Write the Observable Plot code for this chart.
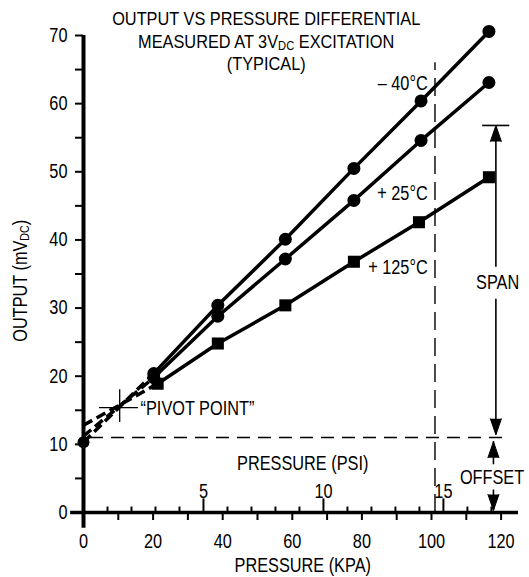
<!DOCTYPE html>
<html><head><meta charset="utf-8">
<script src="https://cdn.jsdelivr.net/npm/d3@7"></script>
<script src="https://cdn.jsdelivr.net/npm/@observablehq/plot@0.6"></script>
<style>body{margin:0;background:#fff}#chart{width:529px;height:577px}</style>
</head><body><div id="chart"></div>
<script>
// ---- data ----
const seriesNames = ["– 40°C", "+ 25°C", "+ 125°C"];
const kpaCircles = [20.2, 38.6, 58, 77.7, 97, 116.5];
const outMinus40 = [20.4, 30.4, 40.1, 50.5, 60.4, 70.6];
const outPlus25 = [19.8, 28.8, 37.2, 45.8, 54.6, 63.1];
const kpaSquares = [21.3, 38.6, 58, 77.7, 96.4, 116.5];
const outPlus125 = [18.9, 24.8, 30.4, 36.8, 42.6, 49.2];
// dashed extrapolation of each series back to 0 kPa
const extOutAtZero = [10.3, 11.2, 12.8];
const originDot = [10.3];
// axes
const yTickValues = [0, 5, 10, 15, 20, 25, 30, 35, 40, 45, 50, 55, 60, 65, 70];
const yTickLabels = [0, 10, 20, 30, 40, 50, 60, 70];
const xTickValues = [0, 10, 20, 30, 40, 50, 60, 70, 80, 90, 100, 110, 120];
const xTickLabels = [0, 20, 40, 60, 80, 100, 120];
const psiTicks = [1, 2, 3, 4, 5, 6, 7, 8, 9, 10, 11, 12, 13, 14, 15, 16, 17];
const psiLabels = [5, 10, 15];
const KPA_PER_PSI = 6.895;
// annotations
const offsetLevel = [11];
const fullScaleKpa = [101];
const spanTop = [56.8];
const pivot = {kpa: 10.4, out: 15.4};

const FONT = "'Liberation Sans', Arial, sans-serif";
const FS = 20;
const NARROW = 0.815;

const circ = [
  ...kpaCircles.map((x, i) => ({x, y: outMinus40[i], s: seriesNames[0]})),
  ...kpaCircles.map((x, i) => ({x, y: outPlus25[i], s: seriesNames[1]}))
];
const sq = kpaSquares.map((x, i) => ({x, y: outPlus125[i], s: seriesNames[2]}));
const firstPts = [
  {x: kpaCircles[0], y: outMinus40[0]},
  {x: kpaCircles[0], y: outPlus25[0]},
  {x: kpaSquares[0], y: outPlus125[0]}
];
const ext = extOutAtZero.map((v, i) => ({x1: 0, y1: v, x2: firstPts[i].x, y2: firstPts[i].y}));

const spanX = 118.5, offX = 117.8;
const arrowTips = [
  {x: spanX, y: spanTop[0], r: 0},
  {x: spanX, y: 11.4, r: 180},
  {x: offX, y: 10.4, r: 0},
  {x: offX, y: 0.3, r: 180}
];
const vSegs = [
  {x: spanX, y1: 11.4, y2: 31.3},
  {x: spanX, y1: 36.0, y2: spanTop[0]},
  {x: offX, y1: 7.0, y2: 10.4},
  {x: offX, y1: 0.3, y2: 3.3}
];

const seriesLabels = [
  {x: 98.9, y: 63, t: seriesNames[0]},
  {x: 98.9, y: 46.8, t: seriesNames[1]},
  {x: 98.9, y: 36, t: seriesNames[2]}
];
const midLabels = [
  {x: 119, y: 33.8, t: "SPAN"},
  {x: 117.4, y: 5.1, t: "OFFSET"},
  {x: 63, y: 7.2, t: "PRESSURE (PSI)"},
  {x: 63, y: -7.8, t: "PRESSURE (KPA)"}
];
const pivotLabel = [{x: 16.4, y: 15.3, t: "“PIVOT POINT”"}];

const chart = Plot.plot({
  width: 529, height: 577,
  marginLeft: 83, marginRight: 11, marginTop: 35, marginBottom: 65,
  x: {domain: [0, 125]},
  y: {domain: [0, 70]},
  style: {fontFamily: FONT, fontSize: FS + "px", color: "black", background: "white", overflow: "visible"},
  marks: [
    // reference dashed lines
    Plot.ruleY(offsetLevel, {x1: 2, x2: 121, stroke: "black", strokeWidth: 1.4, strokeDasharray: "13,8"}),
    Plot.ruleX(fullScaleKpa, {y1: 0, y2: 66, stroke: "black", strokeWidth: 1.4, strokeDasharray: "18,8"}),
    // axes
    Plot.axisY({ticks: yTickValues, tickSize: 8, tickPadding: 8, strokeWidth: 2,
      tickFormat: d => yTickLabels.includes(d) ? String(d) : "", label: null, fontSize: FS}),
    Plot.axisX({ticks: xTickValues, tickSize: 8, tickPadding: 13, strokeWidth: 2,
      tickFormat: d => xTickLabels.includes(d) ? String(d) : "", label: null, fontSize: FS}),
    Plot.ruleY([0], {x1: -3.7, x2: 125, stroke: "black", strokeWidth: 3.5}),
    Plot.ruleX([0], {y1: -2.3, y2: 70, stroke: "black", strokeWidth: 4}),
    // psi secondary ticks
    Plot.ruleX(psiTicks, {x: d => d * KPA_PER_PSI, y1: 0, y2: d => psiLabels.includes(d) ? 2 : 0.8, stroke: "black", strokeWidth: 2}),
    Plot.text(psiLabels, {x: d => d * KPA_PER_PSI, y: 2, dy: -1, lineAnchor: "bottom", text: d => String(d), fontSize: FS}),
    // extrapolations
    Plot.link(ext, {x1: "x1", y1: "y1", x2: "x2", y2: "y2", stroke: "black", strokeWidth: 3.5, strokeDasharray: "10,5"}),
    Plot.dot(originDot, {x: 0, y: d => d, r: 6, fill: "black"}),
    // series
    Plot.line(circ, {x: "x", y: "y", z: "s", stroke: "black", strokeWidth: 3.5}),
    Plot.line(sq, {x: "x", y: "y", stroke: "black", strokeWidth: 3.5}),
    Plot.dot(circ, {x: "x", y: "y", r: 6.5, fill: "black", symbol: "circle"}),
    Plot.dot(sq, {x: "x", y: "y", r: 6.8, fill: "black", symbol: "square"}),
    // pivot crosshair
    Plot.ruleY([pivot.out], {x1: pivot.kpa - 5.8, x2: pivot.kpa + 5.4, stroke: "black", strokeWidth: 1.3}),
    Plot.ruleX([pivot.kpa], {y1: pivot.out - 2.2, y2: pivot.out + 2.6, stroke: "black", strokeWidth: 1.3}),
    // span / offset arrows
    Plot.ruleY(spanTop, {x1: 114.7, x2: 122.5, stroke: "black", strokeWidth: 1.6}),
    Plot.ruleX(vSegs, {x: "x", y1: "y1", y2: "y2", stroke: "black", strokeWidth: 1.6}),
    Plot.vector(arrowTips, {x: "x", y: "y", rotate: "r", length: 16, r: 5.5, shape: "spike", anchor: "end", fill: "black", stroke: "black", strokeWidth: 1}),
    // annotations
    Plot.text(seriesLabels, {x: "x", y: "y", text: "t", textAnchor: "end", fontSize: FS}),
    Plot.text(midLabels, {x: "x", y: "y", text: "t", textAnchor: "middle", fontSize: FS}),
    Plot.text(pivotLabel, {x: "x", y: "y", text: "t", textAnchor: "start", fontSize: FS}),
    Plot.text(["OUTPUT (mVDC)"], {x: -18.1, y: 34, rotate: -90, fontSize: FS}),
    Plot.text(["OUTPUT VS PRESSURE DIFFERENTIAL\nMEASURED AT 3VDC EXCITATION\n(TYPICAL)"],
      {x: 52.5, y: 69.3, lineAnchor: "middle", lineHeight: 1.2, fontSize: 19})
  ]
});
document.getElementById("chart").appendChild(chart);

// subscript "DC" after V
const NS = "http://www.w3.org/2000/svg";
chart.querySelectorAll("text, tspan").forEach(el => {
  for (const child of Array.from(el.childNodes)) {
    if (child.nodeType === 3 && child.nodeValue.includes("VDC")) {
      const [a, b] = child.nodeValue.split("VDC");
      const t1 = document.createTextNode(a + "V");
      const sub = document.createElementNS(NS, "tspan");
      sub.setAttribute("font-size", "13"); sub.setAttribute("dy", "2.5");
      sub.textContent = "DC";
      const rest = document.createElementNS(NS, "tspan");
      rest.setAttribute("dy", "-2.5");
      rest.textContent = b;
      el.insertBefore(t1, child);
      el.insertBefore(sub, child);
      el.insertBefore(rest, child);
      el.removeChild(child);
    }
  }
});
// condensed lettering like the original (horizontal squeeze about each label's anchor)
chart.querySelectorAll("text").forEach(t => {
  const s = t.textContent.startsWith("OUTPUT VS") ? 0.86 : NARROW;
  const tr = t.getAttribute("transform");
  if (tr) t.setAttribute("transform", tr + ` scale(${s},1)`);
  else {
    const x = +t.getAttribute("x") || 0;
    t.setAttribute("transform", `translate(${x},0) scale(${s},1) translate(${-x},0)`);
  }
});
</script></body></html>
